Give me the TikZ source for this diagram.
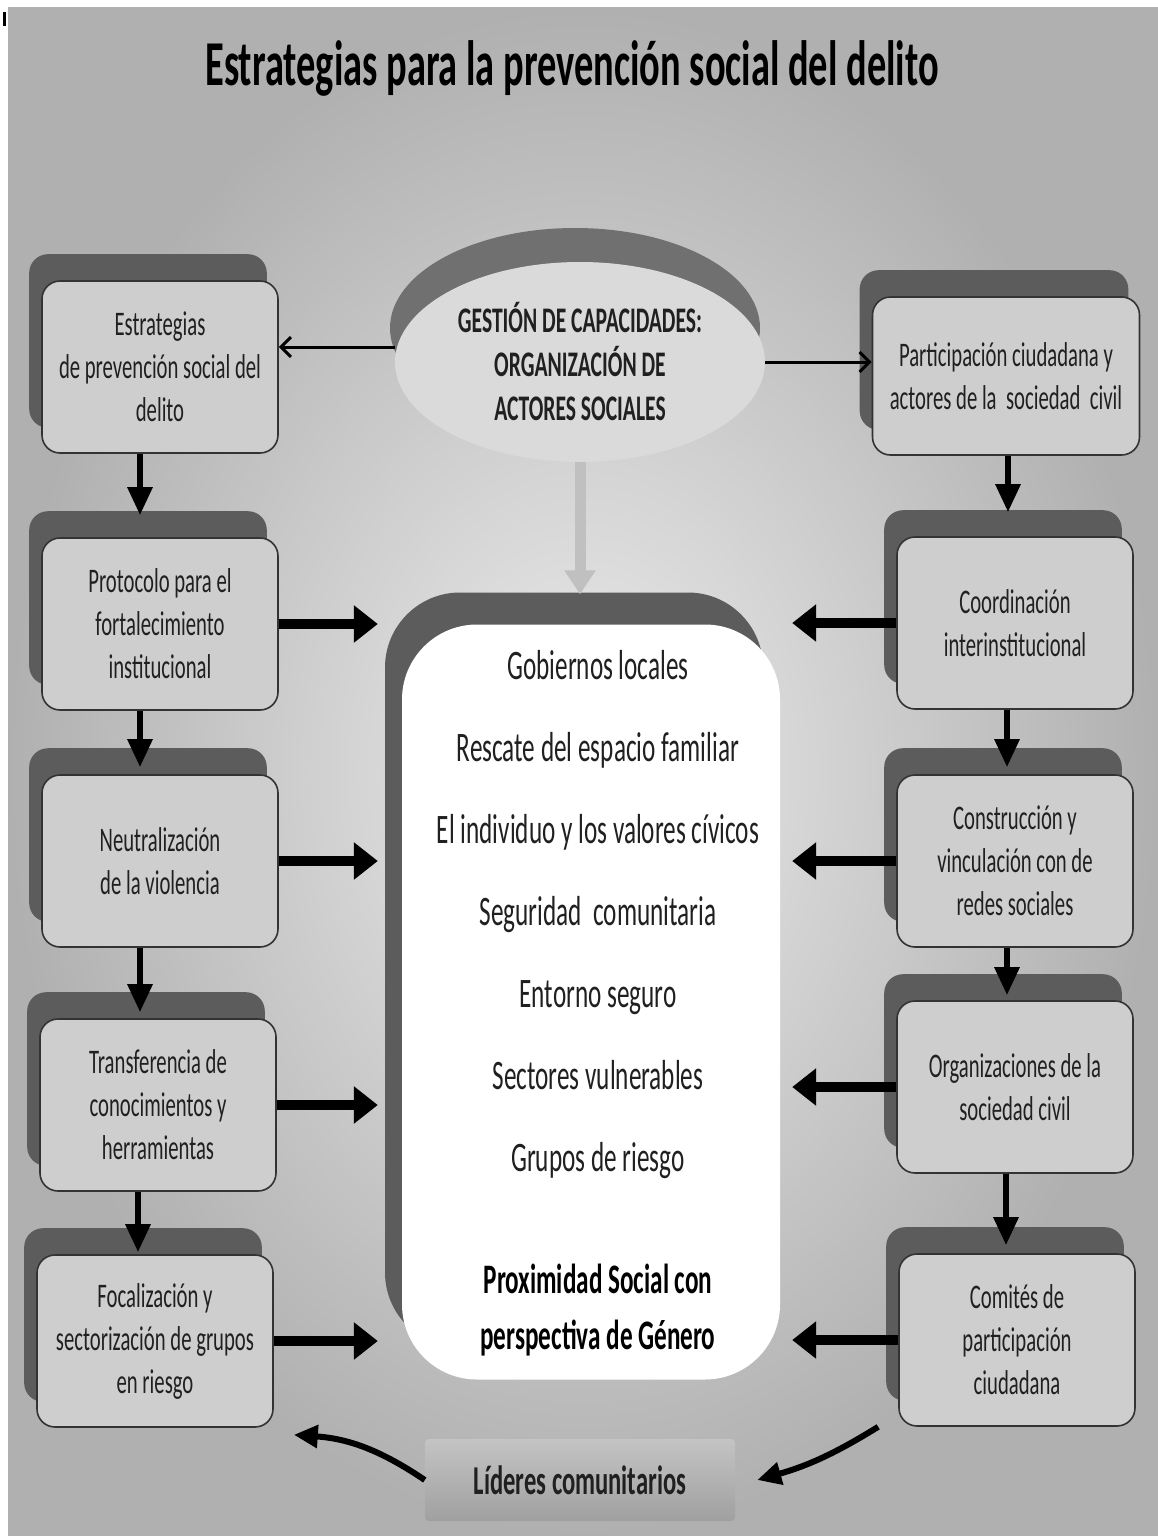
\documentclass[tikz,border=0pt]{standalone}
\usepackage{fontspec}
\setmainfont{Carlito}[FakeStretch=0.6]
\usetikzlibrary{arrows.meta,shadows,shapes.geometric}
\definecolor{boxgray}{RGB}{206,206,206}
\definecolor{boxshadow}{RGB}{92,92,92}
\definecolor{ellgray}{RGB}{218,218,218}
\definecolor{ellshadow}{RGB}{112,112,112}
\definecolor{arrowgray}{RGB}{192,192,192}
\definecolor{bginner}{RGB}{236,236,236}
\definecolor{bgouter}{RGB}{176,176,176}
\definecolor{lidertop}{RGB}{196,196,196}
\definecolor{liderbot}{RGB}{160,160,160}
\definecolor{textgray}{RGB}{32,32,32}

\newcommand{\cajafont}{\fontsize{34.5}{43}\selectfont}

\tikzset{
  stratbox/.style={draw=black!80, line width=1.6pt, fill=boxgray, rounded corners=18pt,
    minimum width=236pt, minimum height=172pt, align=center, text=textgray, font=\cajafont,
    copy shadow={shadow xshift=-12pt, shadow yshift=26pt, fill=boxshadow, draw=boxshadow}},
  gestionell/.style={ellipse, fill=ellgray, inner sep=0pt, minimum width=370pt, minimum height=200pt,
    align=center, text=textgray, font=\fontsize{36}{44}\selectfont\bfseries,
    copy shadow={shadow xshift=-5pt, shadow yshift=34pt, fill=ellshadow, draw=none}},
  centerbox/.style={fill=white, rounded corners=75pt, minimum width=378pt, minimum height=755pt,
    copy shadow={shadow xshift=-17pt, shadow yshift=32pt, fill=boxshadow, draw=none}},
  listtext/.style={align=center, text=textgray, font=\fontsize{42}{82}\selectfont},
  proxtext/.style={align=center, text=black, font=\fontsize{42}{56}\selectfont\bfseries},
  titletext/.style={text=black, font=\fontsize{64}{66}\selectfont\bfseries},
  liderbox/.style={top color=lidertop, bottom color=liderbot, rounded corners=4pt,
    minimum width=310pt, minimum height=82pt, text=textgray, font=\fontsize{41}{42}\selectfont\bfseries},
  thinarrow/.style={line width=3pt, -{Straight Barb[length=10pt,width=20pt]}},
  bigarrow/.style={line width=10pt, -{Triangle[length=24pt,width=36pt]}},
  downarrow/.style={line width=6pt, -{Triangle[length=28pt,width=24pt]}},
  grayarrow/.style={line width=11pt, arrowgray, -{Triangle[length=24pt,width=30pt]}},
  swoosh/.style={line width=6pt, -{Triangle[length=24pt,width=22pt]}},
}

\begin{document}
\begin{tikzpicture}[x=1pt,y=-1pt]
  \useasboundingbox (0,0) rectangle (1158,1536);
  \shade[inner color=bginner, outer color=bgouter] (8,8) rectangle (1158,1536);
  \fill[black] (3,12) rectangle (6,26);

  \node[titletext] (titulo) at (572,68) {Estrategias para la prevención social del delito};

  % gestion y cuadro central
  \node[gestionell] (gestion) at (580,362) {GESTIÓN DE CAPACIDADES:\\ORGANIZACIÓN DE\\ACTORES SOCIALES};
  \node[centerbox] (centro) at (591,1002) {};
  \node[listtext] (lista) at (598,915) {Gobiernos locales\\Rescate del espacio familiar\\El individuo y los valores cívicos\\Seguridad\ \ comunitaria\\Entorno seguro\\Sectores vulnerables\\Grupos de riesgo};
  \node[proxtext] (proximidad) at (598,1310) {Proximidad Social con\\perspectiva de Género};

  % columna izquierda
  \node[stratbox] (l1) at (160,367) {Estrategias\\de prevención social del\\delito};
  \node[stratbox] (l2) at (160,624) {Protocolo para el\\fortalecimiento\\institucional};
  \node[stratbox] (l3) at (160,861) {Neutralización\\de la violencia};
  \node[stratbox] (l4) at (158,1105) {Transferencia de\\conocimientos y\\herramientas};
  \node[stratbox] (l5) at (155,1341) {Focalización y\\sectorización de grupos\\en riesgo};

  % columna derecha
  \node[stratbox, minimum width=267pt, minimum height=158pt] (r1) at (1006,376) {Participación ciudadana y\\actores de la\ \ sociedad\ \ civil};
  \node[stratbox] (r2) at (1015,623) {Coordinación\\interinstitucional};
  \node[stratbox] (r3) at (1015,861) {Construcción y\\vinculación con de\\redes sociales};
  \node[stratbox] (r4) at (1015,1087) {Organizaciones de la\\sociedad civil};
  \node[stratbox] (r5) at (1017,1340) {Comités de\\participación\\ciudadana};

  \node[liderbox] (lideres) at (580,1480) {Líderes comunitarios};

  % flechas
  \coordinate (gw) at ([yshift=15pt]gestion.west);
  \draw[thinarrow] (gw) -- (gw -| l1.east);
  \draw[thinarrow] (gestion.east) -- (gestion.east -| r1.west);
  \draw[grayarrow, shorten >=30pt] (gestion.south) -- (gestion.south |- centro.north);

  \foreach \a/\b/\s in {l1/l2/22, l2/l3/7, l3/l4/6, l4/l5/2} {
    \coordinate (d) at ([xshift=-20pt]\a.south);
    \draw[downarrow, shorten >=\s pt] (d) -- (d |- \b.north);
  }
  \foreach \a/\b/\x/\s in {r1/r2/2/24, r2/r3/-8/7, r3/r4/-8/5, r4/r5/-9/8} {
    \coordinate (d) at ([xshift=\x pt]\a.south);
    \draw[downarrow, shorten >=\s pt] (d) -- (d |- \b.north);
  }
  \foreach \b in {l2,l3,l4,l5}
    \draw[bigarrow, shorten >=24pt] (\b.east) -- (\b.east -| centro.west);
  \foreach \b in {r2,r3,r4,r5}
    \draw[bigarrow, shorten >=12pt] (\b.west) -- (\b.west -| centro.east);

  % lideres
  \coordinate (ls) at ([xshift=20pt,yshift=-7pt]l5.south east);
  \draw[swoosh] (lideres.west) to[bend right=15] (ls);
  \coordinate (rs) at ([xshift=-20pt]r5.south west);
  \coordinate (le) at ([xshift=22pt]lideres.east);
  \draw[swoosh] (rs) to[bend left=8] (le);
\end{tikzpicture}
\end{document}
